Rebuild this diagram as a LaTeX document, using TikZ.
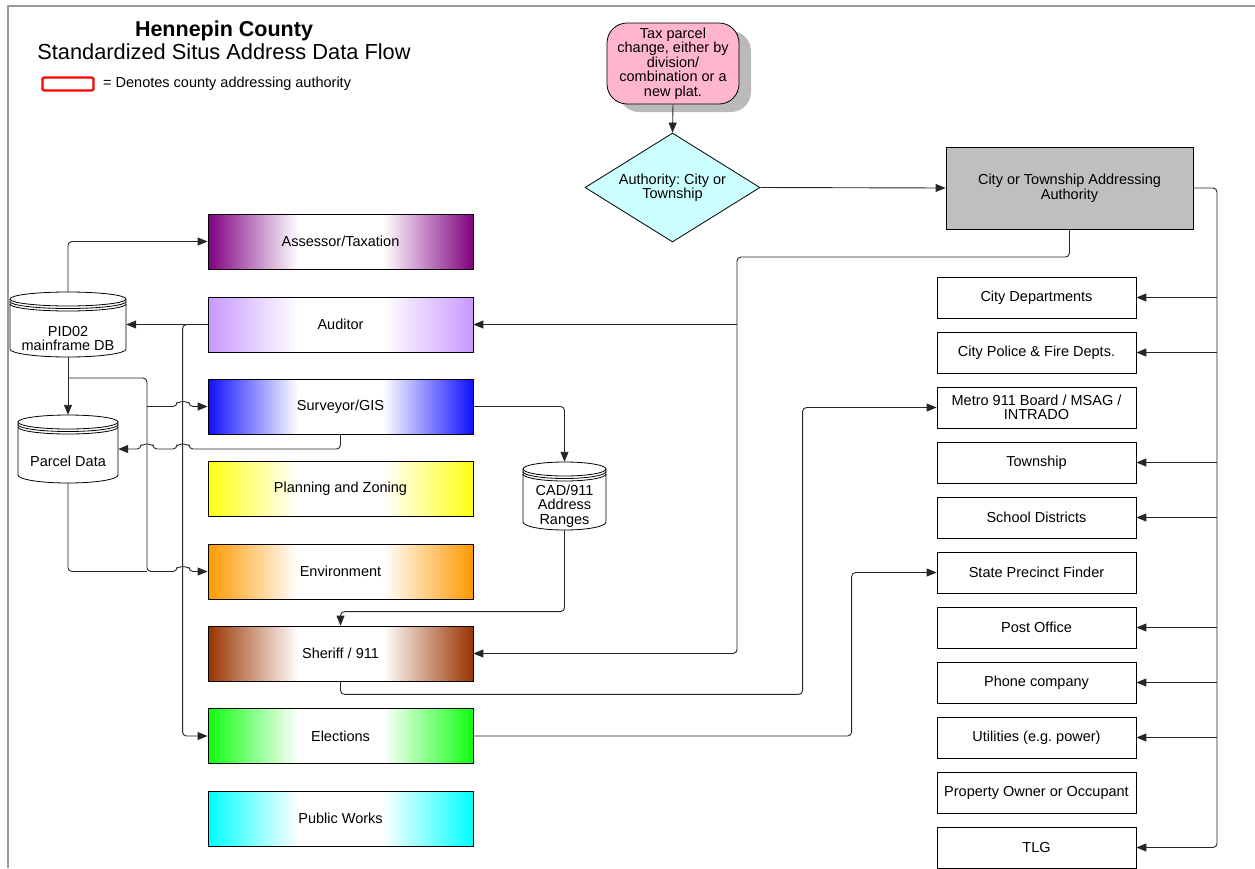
\documentclass[tikz,border=0pt]{standalone}
\usepackage{fontspec}
\setmainfont{Liberation Sans}
\usetikzlibrary{arrows.meta,shapes.geometric,calc,shadows}
\frenchspacing
\definecolor{taxpink}{HTML}{FFB5CB}
\definecolor{diacyan}{HTML}{CCFFFF}
\definecolor{citygray}{HTML}{BFBFBF}
\definecolor{cPurple}{HTML}{800080}
\definecolor{cLilac}{HTML}{C899FF}
\definecolor{cBlue}{HTML}{1010FF}
\definecolor{cYellow}{HTML}{FFFF10}
\definecolor{cOrange}{HTML}{FF9900}
\definecolor{cBrown}{HTML}{993300}
\definecolor{cGreen}{HTML}{10FF10}
\definecolor{cCyan}{HTML}{00FFFF}
\definecolor{framegray}{HTML}{999999}
\colorlet{gradc}{cPurple}
\pgfdeclarehorizontalshading[gradc]{band}{100bp}{color(0bp)=(gradc); color(25bp)=(gradc);
  color(42bp)=(white); color(58bp)=(white); color(75bp)=(gradc); color(100bp)=(gradc)}
\newcommand\dbcyl[4]{% cx, top, bottom, rx
  \draw[line width=0.8pt, fill=white] (#1-#4,#2+7) -- (#1-#4,#3-8)
    arc[start angle=180,end angle=360,x radius=#4pt,y radius=8pt]
    -- (#1+#4,#2+7) arc[start angle=0,end angle=180,x radius=#4pt,y radius=7pt] -- cycle;
  \foreach \dd in {0,2.5,5}
    \draw[line width=0.8pt] (#1-#4,#2+7+\dd) arc[start angle=180,end angle=360,x radius=#4pt,y radius=7pt];
}
\begin{document}
\begin{tikzpicture}[x=1pt,y=-1pt,
  lbl/.style={font=\fontsize{14.5}{14.5}\selectfont},
  grad/.style={draw=black, line width=0.8pt, minimum width=265pt, minimum height=55pt,
    inner sep=0pt, /utils/exec={\colorlet{gradc}{#1}}, shading=band, shading angle=0, lbl},
  rbox/.style={draw=black, line width=0.8pt, fill=white, minimum width=199pt,
    minimum height=41pt, inner sep=0pt, align=center, lbl},
  conn/.style={draw=black!85, line width=0.9pt, rounded corners=4pt},
  arr/.style={conn, -{Triangle[length=10pt,width=8pt]}},
]
\useasboundingbox (0,0) rectangle (1255,868);
\draw[framegray, line width=2pt] (8,868) -- (8,6) -- (1255,6);

% title and legend
\node[font=\bfseries\fontsize{21.5}{22}\selectfont, inner sep=0] (t1) at (224,31) {Hennepin County};
\node[font=\fontsize{21.8}{22}\selectfont, inner sep=0] (t2) at (224,52) {Standardized Situs Address Data Flow};
\node[draw=red, line width=2.2pt, rounded corners=2pt, minimum width=51pt, minimum height=13pt, inner sep=0] (leg) at (68,84) {};
\node[lbl, anchor=west, inner sep=0] (legt) at (103,84) {= Denotes county addressing authority};

% top flow
\node[draw, line width=0.8pt, fill=taxpink, rounded corners=20pt, minimum width=132pt, minimum height=81pt,
  align=center, lbl, inner sep=0,
  drop shadow={shadow xshift=12pt, shadow yshift=-8pt, fill=black!27, opacity=1}] (tax) at (673,63.5)
  {Tax parcel\\change, either by\\division/\\combination or a\\new plat.};
\node[diamond, aspect=1.6, draw, line width=0.8pt, fill=diacyan, minimum width=175pt, minimum height=109pt,
  inner sep=0, align=center, lbl] (auth) at (672.5,187.5) {Authority: City or\\Township};
\node[draw, line width=0.8pt, fill=citygray, minimum width=247pt, minimum height=82pt, align=center, lbl,
  inner sep=0] (city) at (1069.5,188) {City or Township Addressing\\Authority};

% left column
\node[grad=cPurple] (assessor) at (340.5,241.5) {Assessor/Taxation};
\node[grad=cLilac] (auditor) at (340.5,324.5) {Auditor};
\node[grad=cBlue] (surveyor) at (340.5,406.5) {Surveyor/GIS};
\node[grad=cYellow] (planning) at (340.5,489) {Planning and Zoning};
\node[grad=cOrange] (environment) at (340.5,571.5) {Environment};
\node[grad=cBrown] (sheriff) at (340.5,653.5) {Sheriff / 911};
\node[grad=cGreen] (elections) at (340.5,736) {Elections};
\node[grad=cCyan] (public) at (340.5,818.5) {Public Works};

% databases
\dbcyl{68}{292}{357}{58}
\node[inner sep=0, minimum width=116pt, minimum height=65pt] (pid) at (68,324.5) {};
\node[lbl, align=center, inner sep=0] (pidt) at (68,338.5) {PID02\\mainframe DB};
\dbcyl{68}{415}{483}{50}
\node[inner sep=0, minimum width=100pt, minimum height=68pt] (parcel) at (68,449) {};
\node[lbl, align=center, inner sep=0] (parcelt) at (68,461) {Parcel Data};
\dbcyl{564.5}{462}{530}{41.5}
\node[inner sep=0, minimum width=83pt, minimum height=68pt] (cad) at (564.5,496) {};
\node[lbl, align=center, inner sep=0] (cadt) at (564.5,506) {CAD/911\\Address\\Ranges};

% right column
\node[rbox] (cityd) at (1036.5,297.5) {City Departments};
\node[rbox] (police) at (1036.5,352.5) {City Police \& Fire Depts.};
\node[rbox] (metro) at (1036.5,407.5) {Metro 911 Board / MSAG /\\INTRADO};
\node[rbox] (township) at (1036.5,462.5) {Township};
\node[rbox] (school) at (1036.5,517.5) {School Districts};
\node[rbox] (state) at (1036.5,572.5) {State Precinct Finder};
\node[rbox] (post) at (1036.5,627.5) {Post Office};
\node[rbox] (phone) at (1036.5,682.5) {Phone company};
\node[rbox] (util) at (1036.5,737.5) {Utilities (e.g. power)};
\node[rbox] (owner) at (1036.5,792.5) {Property Owner or Occupant};
\node[rbox] (tlg) at (1036.5,847.5) {TLG};

% connectors: top
\draw[arr] (tax.south) -- (auth.north);
\draw[arr] (auth.east) -- (city.west);
\coordinate (rb) at (1217,188);
\draw[arr] (city.east) -- (rb) |- (tlg.east);
\foreach \n in {cityd,police,township,school,post,phone,util}
  \draw[arr] (rb |- \n.east) -- (\n.east);
\coordinate (cb) at (737,257);
\draw[arr] (city.south) |- (cb) |- (sheriff.east);
\draw[arr] (cb |- auditor.east) -- (auditor.east);
\draw[arr] (sheriff.south) -- ++(0,13) -| ($(metro.west)+(-134,0)$) -- (metro.west);
\draw[arr] (elections.east) -| ($(state.west)+(-85,0)$) -- (state.west);

% connectors: left
\draw[arr] (pid.north) |- (assessor.west);
\draw[arr] (auditor.west) -- (pid.east);
\draw[arr] (auditor.west) -- ++(-25,0) |- (elections.west);
\draw[arr] (pid.south) -- (parcel.north);
\coordinate (j1) at (68,378);
\coordinate (j2) at (147,406.5);
\coordinate (j3) at (147,571.5);
\draw[arr] (j1) -- (147,378) -- (j3) -- (177,571.5)
  arc[start angle=180,end angle=0,x radius=6pt,y radius=5pt] -- (environment.west);
\draw[arr] (j2) -- (177,406.5)
  arc[start angle=180,end angle=0,x radius=6pt,y radius=5pt] -- (surveyor.west);
\draw[conn] (parcel.south) |- (j3);
\draw[arr] (surveyor.south) |- (189,449)
  arc[start angle=0,end angle=180,x radius=6pt,y radius=5pt] -- (153,449)
  arc[start angle=0,end angle=180,x radius=6pt,y radius=5pt] -- (parcel.east);
\draw[arr] (surveyor.east) -| (cad.north);
\draw[arr] (cad.south) |- ($(sheriff.north)+(0,-14)$) -- (sheriff.north);
\end{tikzpicture}
\end{document}
